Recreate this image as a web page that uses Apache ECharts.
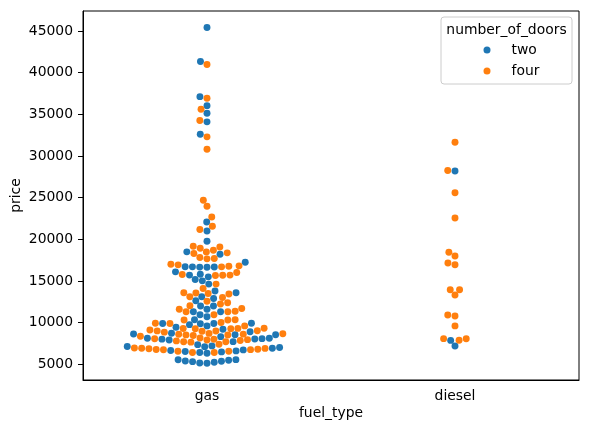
<!DOCTYPE html>
<html lang="en">
<head>
<meta charset="UTF-8">
<title>price by fuel_type</title>
<script src="https://cdn.jsdelivr.net/npm/echarts@6.0.0/dist/echarts.min.js"></script>
<style>
  html, body { margin: 0; padding: 0; background: #fff; }
  #chart { width: 589px; height: 433px; }
</style>
</head>
<body>
<div id="chart"></div>
<script>
// 类别与图例
const fuelTypes = ['gas', 'diesel'];
const doorTypes = ['two', 'four'];

// price values
const gasTwo = [45430, 41360, 37130, 36050, 35130, 34100, 32620,
  22080, 21000, 19770, 18490, 18210, 17250, 16650, 16700, 16690, 16680, 16660,
  16090, 15490, 15810, 15700, 15010, 15180, 14620,
  13580, 13780, 12900, 13100, 12620, 11980, 11990,
  11300, 11600, 10950, 10700, 11290,
  9900, 9910, 9890, 9750, 9600, 9850, 10350,
  8710, 8900, 9190, 9430, 8530, 8540, 8630,
  7710, 8110, 8120, 7910, 8010, 8020, 8310, 7350, 8070,
  6920, 6640, 6600, 6480, 7120, 7000, 7110, 7200, 6320, 6400, 6520, 6720,
  5550, 5470, 5310, 5150, 5120, 5230, 5350, 5390, 5540];
const gasFour = [40990, 36930, 35610, 34260, 32300, 30820,
  24680, 23960, 22680, 21560, 21170,
  19170, 19080, 18930, 18690, 18480, 18290, 18370,
  17700, 17650, 17810, 16810, 16690, 17010, 16770, 16930,
  15690, 15700, 15660, 15780, 16020, 14620,
  14100, 13570, 13420, 13500, 13560, 13100, 13020,
  12220, 12380, 12020, 12550,
  11300, 11310, 10950, 11600, 11350, 11700,
  10000, 10300, 10310, 9600, 9890, 9910, 10350,
  9310, 9300, 9250, 8650, 8600, 8610, 9000, 9010, 8990, 8950, 8700, 8850, 9100, 9290, 9260, 8050,
  8450, 8150, 7950, 7850, 7650, 7700, 8350, 7400, 8500, 8520, 7700, 7800, 7900, 8000,
  6850, 6750, 6760, 6740, 6400, 6410, 6550, 6560, 6800, 6900, 6910, 6950];
const dieselTwo = [28190, 7860, 7190];
const dieselFour = [31650, 28260, 25600, 22550, 18450, 18000, 17150, 16950,
  13950, 13930, 13300, 10900, 10800, 9600, 7880, 8050, 8070];

const yTicks = [5000, 10000, 15000, 20000, 25000, 30000, 35000, 40000, 45000];
const colors = ['#1f77b4', '#ff7f0e'];

const FONT = 'DejaVu Sans';
const FS = 13.9;
const DOT = 6.94; // marker diameter in px

const chart = echarts.init(document.getElementById('chart'));

const option = {
  animation: false,
  backgroundColor: '#fff',
  grid: { left: 83, right: 10, top: 11, bottom: 53, show: true, borderColor: '#000', borderWidth: 1, backgroundColor: 'transparent' },
  xAxis: [{
    type: 'category',
    position: 'bottom',
    data: fuelTypes,
    name: 'fuel_type',
    nameLocation: 'middle',
    nameGap: 26,
    nameMoveOverlap: false,
    nameTextStyle: { fontFamily: FONT, fontSize: FS, color: '#000' },
    axisLine: { onZero: false, lineStyle: { color: '#000', width: 1 } },
    axisTick: { alignWithLabel: true, length: 5, lineStyle: { color: '#000' } },
    axisLabel: { fontFamily: FONT, fontSize: FS, color: '#000', margin: 9 },
    splitLine: { show: false }
  }, {
    type: 'value',
    position: 'top',
    min: -0.5,
    max: 1.5,
    show: false
  }],
  yAxis: {
    type: 'value',
    min: 3104,
    max: 47414,
    name: 'price',
    nameLocation: 'middle',
    nameGap: 60,
    nameMoveOverlap: false,
    nameTextStyle: { fontFamily: FONT, fontSize: FS, color: '#000' },
    axisLine: { show: true, onZero: false, lineStyle: { color: '#000', width: 1 } },
    axisTick: { show: true, length: 5, customValues: yTicks, lineStyle: { color: '#000' } },
    axisLabel: { fontFamily: FONT, fontSize: FS, color: '#000', margin: 10, customValues: yTicks, formatter: v => String(v) },
    splitLine: { show: false }
  },
  legend: {
    data: doorTypes,
    orient: 'vertical',
    left: 483.5,
    top: 43,
    padding: 0,
    icon: 'circle',
    itemWidth: 7,
    itemHeight: 7,
    itemGap: 7,
    textStyle: { fontFamily: FONT, fontSize: FS, color: '#000', lineHeight: 14, padding: [0, 0, 0, 16] }
  },
  graphic: [{
    type: 'rect',
    shape: { x: 441, y: 17, width: 131, height: 67, r: 3 },
    style: { fill: 'rgba(255,255,255,0.8)', stroke: '#cccccc', lineWidth: 1 },
    z: -1
  }, {
    type: 'text',
    x: 506.5,
    y: 30,
    style: { text: 'number_of_doors', font: FS + 'px "' + FONT + '"', fill: '#000', textAlign: 'center', textVerticalAlign: 'middle' }
  }],
  series: doorTypes.map((d, i) => ({
    name: d, type: 'scatter', xAxisIndex: 1, data: [],
    symbolSize: DOT, itemStyle: { color: colors[i], opacity: 1 }
  }))
};
chart.setOption(option);

// beeswarm, like seaborn: sort by value, place each dot at the free spot closest to the midline
function swarm(points, r) {
  const d2 = 4 * r * r;
  const placed = [];
  points.sort((a, b) => a.py - b.py);
  points.forEach(p => {
    const nb = [];
    for (let j = placed.length - 1; j >= 0; j--) {
      if (Math.abs(p.py - placed[j].py) < 2 * r) nb.push(placed[j]); else break;
    }
    nb.reverse();
    const cands = [0];
    let leftFirst = true;
    nb.forEach(q => {
      const dy = p.py - q.py;
      const dx = Math.sqrt(Math.max(d2 - dy * dy, 0)) * 1.05;
      if (leftFirst) cands.push(q.dx - dx, q.dx + dx); else cands.push(q.dx + dx, q.dx - dx);
      leftFirst = !leftFirst;
    });
    const order = cands.map((c, i) => [Math.abs(c), i, c]).sort((a, b) => a[0] - b[0] || a[1] - b[1]);
    let chosen = 0;
    for (const o of order) {
      const c = o[2];
      if (nb.every(q => (q.dx - c) * (q.dx - c) + (q.py - p.py) * (q.py - p.py) >= d2 - 1e-9)) { chosen = c; break; }
    }
    p.dx = chosen;
    placed.push(p);
  });
  return points;
}

const pxPerUnit = chart.convertToPixel({ xAxisIndex: 1 }, 1) - chart.convertToPixel({ xAxisIndex: 1 }, 0);
// matplotlib y grows upwards, so sort on -pixel y
const groups = [[gasTwo, gasFour], [dieselTwo, dieselFour]];
const seriesData = [[], []];
groups.forEach((g, ci) => {
  const pts = [];
  g.forEach((vals, di) => vals.forEach(v => {
    pts.push({ price: v, hue: di, py: -chart.convertToPixel({ yAxisIndex: 0 }, v) });
  }));
  swarm(pts, DOT / 2).forEach(p => {
    seriesData[p.hue].push([ci + p.dx / pxPerUnit, p.price]);
  });
});

chart.setOption({ series: seriesData.map(d => ({ data: d })) });
</script>
</body>
</html>
